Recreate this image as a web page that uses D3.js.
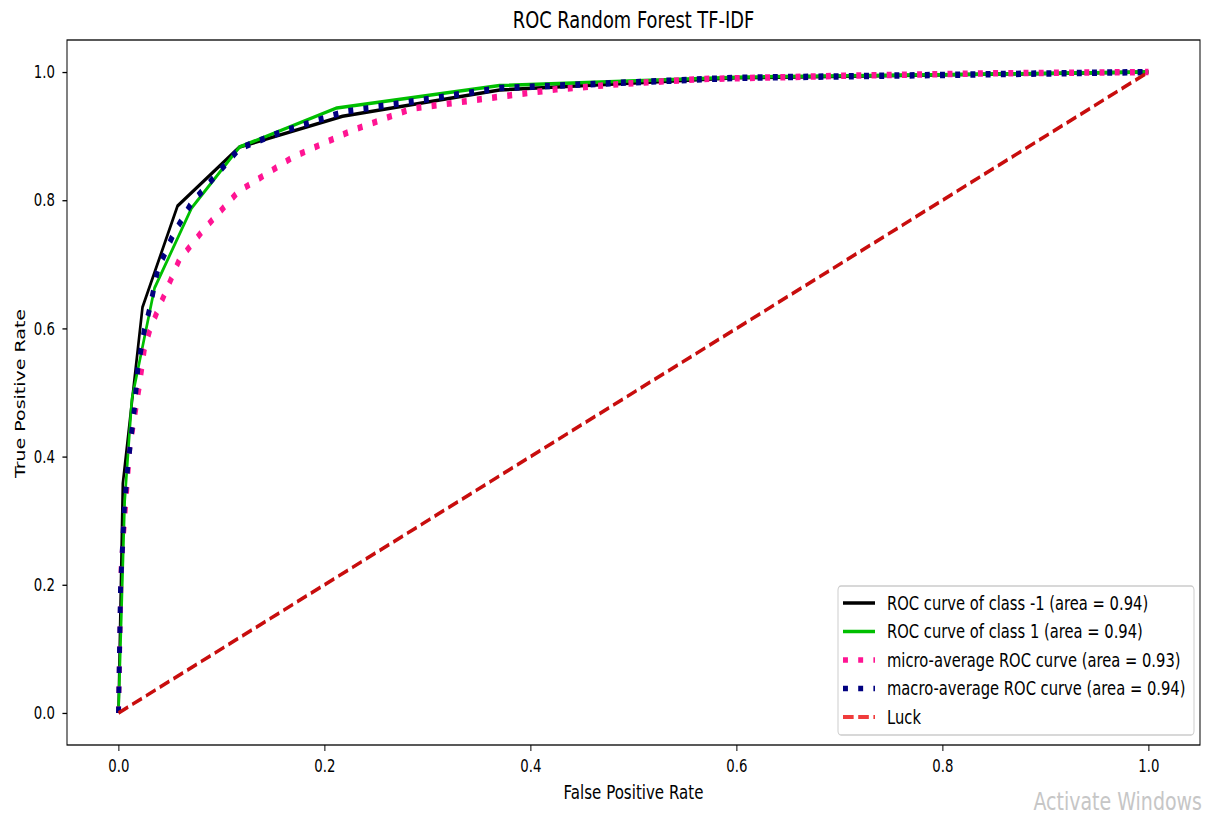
<!DOCTYPE html>
<html>
<head>
<meta charset="utf-8">
<script src="https://cdn.jsdelivr.net/npm/d3@7"></script>
<style>
  body { margin: 0; background: #fff; }
  text { font-family: "DejaVu Sans", sans-serif; fill: #000; }
</style>
</head>
<body>
<svg id="chart" width="1228" height="818"></svg>
<script>
// ROC curves
const fprNeg = [0, 0.0042, 0.0233, 0.0573, 0.1175, 0.2175, 0.37, 0.6, 1];
const tprNeg = [0, 0.358, 0.633, 0.791, 0.883, 0.931, 0.972, 0.991, 1];

const fprPos = [0, 0.006, 0.013, 0.035, 0.071, 0.1175, 0.212, 0.37, 0.6, 1];
const tprPos = [0, 0.33, 0.49, 0.663, 0.788, 0.883, 0.944, 0.979, 0.992, 1];

const fprMicro = [0, 0.0026, 0.011, 0.02, 0.025, 0.03, 0.037, 0.059, 0.082, 0.116, 0.169, 0.227, 0.285, 0.363, 0.425, 0.485, 0.564, 0.7, 0.85, 1];
const tprMicro = [0, 0.228, 0.415, 0.507, 0.566, 0.595, 0.624, 0.707, 0.753, 0.813, 0.867, 0.909, 0.943, 0.960, 0.973, 0.981, 0.989, 0.994, 0.998, 1];

const fprMacro = [0, 0.002, 0.0058, 0.009, 0.0155, 0.0188, 0.025, 0.030, 0.038, 0.053, 0.0706, 0.1175, 0.159, 0.219, 0.281, 0.37, 0.6, 1];
const tprMacro = [0, 0.197, 0.322, 0.384, 0.476, 0.538, 0.597, 0.629, 0.691, 0.746, 0.795, 0.881, 0.907, 0.938, 0.953, 0.975, 0.991, 1];

const fprLuck = [0, 1];
const tprLuck = [0, 1];

const legendLabels = [
  "ROC curve of class -1 (area = 0.94)",
  "ROC curve of class 1 (area = 0.94)",
  "micro-average ROC curve (area = 0.93)",
  "macro-average ROC curve (area = 0.94)",
  "Luck"
];
const tickValues = [0, 0.2, 0.4, 0.6, 0.8, 1.0];

// the original picture is squeezed sideways, so draw wide and scale x
const SX = 0.76;
const mLeft = 67, mRight = 1200, mTop = 40, mBottom = 745;

const svg = d3.select("#chart");
const g = svg.append("g").attr("transform", `scale(${SX},1)`);

const x = d3.scaleLinear().domain([-0.05, 1.05]).range([mLeft / SX, mRight / SX]);
const y = d3.scaleLinear().domain([-0.05, 1.05]).range([mBottom, mTop]);

const series = [
  { fpr: fprNeg, tpr: tprNeg, color: "#000000", width: 3.5, dash: null },
  { fpr: fprPos, tpr: tprPos, color: "#00bf00", width: 3.5, dash: null },
  { fpr: fprMicro, tpr: tprMicro, color: "#ff1493", width: 6.5, dash: "6.5,13.5" },
  { fpr: fprMacro, tpr: tprMacro, color: "#000080", width: 6.5, dash: "6.5,13.5" },
  { fpr: fprLuck, tpr: tprLuck, color: "#c80d0d", width: 3.8, dash: "14,6" }
];

const line = d3.line().x(d => x(d[0])).y(d => y(d[1]));

series.forEach(s => {
  g.append("path")
    .datum(s.fpr.map((v, i) => [v, s.tpr[i]]))
    .attr("d", line)
    .attr("fill", "none")
    .attr("stroke", s.color)
    .attr("stroke-width", s.width)
    .attr("stroke-linejoin", "round")
    .attr("stroke-dasharray", s.dash);
});

// axes
const fmt = d3.format(".1f");
const xAxis = g.append("g")
  .attr("transform", `translate(0,${mBottom})`)
  .call(d3.axisBottom(x).tickValues(tickValues).tickFormat(fmt).tickSize(6).tickPadding(9));
const yAxis = g.append("g")
  .attr("transform", `translate(${mLeft / SX},0)`)
  .call(d3.axisLeft(y).tickValues(tickValues).tickFormat(fmt).tickSize(6).tickPadding(10));

[xAxis, yAxis].forEach(a => {
  a.select(".domain").remove();
  a.selectAll(".tick line").attr("stroke", "#000").attr("stroke-width", 1.3);
  a.selectAll(".tick text").attr("font-size", 17.5).attr("font-family", "DejaVu Sans");
});

// frame
g.append("rect")
  .attr("x", mLeft / SX).attr("y", mTop)
  .attr("width", (mRight - mLeft) / SX).attr("height", mBottom - mTop)
  .attr("fill", "none").attr("stroke", "#000").attr("stroke-width", 1.3);

// titles
g.append("text")
  .attr("x", (mLeft + mRight) / 2 / SX).attr("y", 28)
  .attr("text-anchor", "middle").attr("font-size", 23.5)
  .text("ROC Random Forest TF-IDF");

g.append("text")
  .attr("x", (mLeft + mRight) / 2 / SX).attr("y", 799)
  .attr("text-anchor", "middle").attr("font-size", 19.8)
  .text("False Positive Rate");

g.append("text")
  .attr("transform", `translate(${25 / SX},${(mTop + mBottom) / 2 + 1}) rotate(-90)`)
  .attr("text-anchor", "middle").attr("font-size", 19)
  .text("True Positive Rate");

// legend
const lg = g.append("g");
lg.append("rect")
  .attr("x", 838 / SX).attr("y", 586)
  .attr("width", (1194 - 838) / SX).attr("height", 735 - 586)
  .attr("rx", 4).attr("ry", 4)
  .attr("fill", "#fff").attr("fill-opacity", 0.8)
  .attr("stroke", "#cccccc").attr("stroke-width", 1.3);

legendLabels.forEach((label, i) => {
  const s = series[i];
  const ly = 603 + i * 28.5;
  lg.append("line")
    .attr("x1", 843 / SX).attr("x2", 875 / SX)
    .attr("y1", ly).attr("y2", ly)
    .attr("stroke", i === 4 ? "#f03c3c" : s.color)
    .attr("stroke-width", i > 1 && i < 4 ? 5.5 : s.width)
    .attr("stroke-dasharray", s.dash);
  lg.append("text")
    .attr("x", 887 / SX).attr("y", ly)
    .attr("dy", "0.35em")
    .attr("font-size", 19.4)
    .text(label);
});

// screen watermark seen in the picture
g.append("text")
  .attr("x", 1202 / SX).attr("y", 810)
  .attr("text-anchor", "end")
  .attr("font-family", "Noto Sans")
  .attr("font-size", 25)
  .style("fill", "#c6c6c6")
  .text("Activate Windows");
</script>
</body>
</html>
